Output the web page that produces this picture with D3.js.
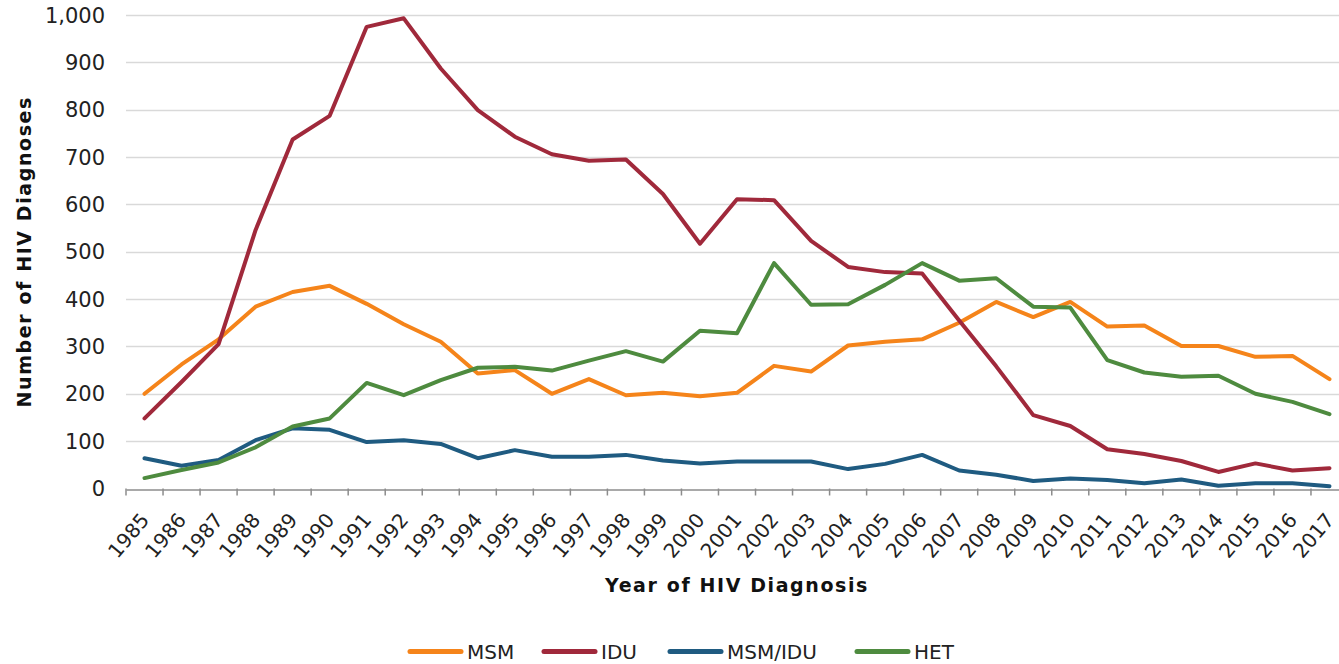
<!DOCTYPE html>
<html>
<head>
<meta charset="utf-8">
<script src="https://cdn.jsdelivr.net/npm/d3@7"></script>
<style>
  body { margin: 0; background: #fff; }
  svg { display: block; }
</style>
</head>
<body>
<svg class="chart" width="1339" height="664"></svg>
<script>
const WIDTH = 1339;
const HEIGHT = 664;

const years = d3.range(1985, 2018).map(String);

const msm = [200, 262, 315, 384, 415, 428, 390, 347, 310, 243, 250, 200, 231, 197, 202, 195,
  202, 259, 247, 302, 310, 315, 350, 394, 362, 394, 342, 344, 301, 301, 278, 280, 231];
const idu = [148, 225, 305, 546, 737, 787, 975, 993, 887, 799, 743, 706, 692, 695, 622, 517,
  611, 609, 523, 468, 457, 454, 355, 258, 155, 132, 83, 73, 58, 35, 53, 38, 43];
const msmIdu = [64, 48, 60, 102, 127, 124, 98, 102, 94, 64, 81, 67, 67, 71, 59, 53,
  57, 57, 57, 41, 52, 71, 38, 29, 16, 21, 18, 11, 19, 6, 11, 11, 5];
const het = [22, 39, 55, 87, 131, 148, 223, 197, 229, 255, 257, 249, 270, 290, 268, 333,
  328, 476, 388, 389, 430, 476, 439, 444, 384, 382, 271, 245, 236, 238, 200, 183, 157];

const seriesNames = ['MSM', 'IDU', 'MSM/IDU', 'HET'];
const seriesColors = ['#F5841A', '#A0293B', '#1F5B81', '#4E8B3F'];
const yTicks = [0, 100, 200, 300, 400, 500, 600, 700, 800, 900, 1000];

const series = [msm, idu, msmIdu, het].map((values, i) => ({
  name: seriesNames[i],
  color: seriesColors[i],
  values,
}));

const margin = { left: 126, right: -9, top: 15, bottom: 175.5 };

const x = d3.scaleBand().domain(years).range([margin.left, WIDTH - margin.right]);
const y = d3.scaleLinear().domain([0, 1000]).range([HEIGHT - margin.bottom, margin.top]);

const svg = d3.select('.chart');

// gridlines
svg.append('g')
  .selectAll('line')
  .data(yTicks.filter((d) => d > 0))
  .enter()
  .append('line')
  .attr('x1', margin.left)
  .attr('x2', WIDTH)
  .attr('y1', (d) => Math.round(y(d)) + 0.5)
  .attr('y2', (d) => Math.round(y(d)) + 0.5)
  .style('stroke', '#D9D9D9')
  .style('stroke-width', 1.5);

// y axis labels
svg.append('g')
  .selectAll('text')
  .data(yTicks)
  .enter()
  .append('text')
  .attr('x', 105)
  .attr('y', (d) => y(d))
  .attr('dy', '0.36em')
  .attr('text-anchor', 'end')
  .style('font-family', 'DejaVu Sans, Verdana, sans-serif')
  .style('font-size', '21px')
  .style('fill', '#222')
  .text((d) => d3.format(',')(d));

// x axis
const xAxis = svg.append('g')
  .attr('transform', `translate(0,${Math.round(y(0)) + 0.5})`)
  .call(d3.axisBottom(x).tickSize(0).tickFormat(''));
xAxis.select('.domain').style('stroke', '#8C8C8C').style('stroke-width', 1.5);

svg.append('g')
  .selectAll('line')
  .data(years)
  .enter()
  .append('line')
  .attr('x1', (d) => x(d))
  .attr('x2', (d) => x(d))
  .attr('y1', y(0))
  .attr('y2', y(0) + 7)
  .style('stroke', '#8C8C8C')
  .style('stroke-width', 1.5);

// year labels, slanted
svg.append('g')
  .selectAll('text')
  .data(years)
  .enter()
  .append('text')
  .attr('transform', (d) => `translate(${x(d) + x.bandwidth() / 2 - 5},${y(0) + 23}) rotate(-50)`)
  .attr('text-anchor', 'end')
  .attr('dy', '0.7em')
  .style('font-family', 'DejaVu Sans, Verdana, sans-serif')
  .style('font-size', '20px')
  .style('fill', '#222')
  .text((d) => d);

// axis titles
svg.append('text')
  .attr('transform', `translate(31,${(y(0) + y(1000)) / 2}) rotate(-90)`)
  .attr('text-anchor', 'middle')
  .style('font-family', 'DejaVu Sans, Verdana, sans-serif')
  .style('font-weight', 'bold')
  .style('font-size', '19px')
  .style('letter-spacing', '1.6px')
  .style('fill', '#111')
  .text('Number of HIV Diagnoses');

svg.append('text')
  .attr('x', 737)
  .attr('y', 592)
  .attr('text-anchor', 'middle')
  .style('font-family', 'DejaVu Sans, Verdana, sans-serif')
  .style('font-weight', 'bold')
  .style('font-size', '19px')
  .style('letter-spacing', '1.6px')
  .style('fill', '#111')
  .text('Year of HIV Diagnosis');

// lines
const line = d3.line()
  .x((d, i) => x(years[i]) + x.bandwidth() / 2)
  .y((d) => y(d));

svg.append('g')
  .selectAll('path')
  .data(series)
  .enter()
  .append('path')
  .attr('d', (d) => line(d.values))
  .style('fill', 'none')
  .style('stroke', (d) => d.color)
  .style('stroke-width', 4)
  .style('stroke-linejoin', 'round')
  .style('stroke-linecap', 'round');

// legend
const legendX = [408, 542, 668, 855];
const legend = svg.append('g')
  .selectAll('g')
  .data(series)
  .enter()
  .append('g')
  .attr('transform', (d, i) => `translate(${legendX[i]},651.5)`);

legend.append('line')
  .attr('x1', 2)
  .attr('x2', 53)
  .style('stroke', (d) => d.color)
  .style('stroke-width', 5)
  .style('stroke-linecap', 'round');

legend.append('text')
  .attr('x', 59)
  .attr('dy', '0.36em')
  .style('font-family', 'DejaVu Sans, Verdana, sans-serif')
  .style('font-size', '20px')
  .style('fill', '#222')
  .text((d) => d.name);
</script>
</body>
</html>
